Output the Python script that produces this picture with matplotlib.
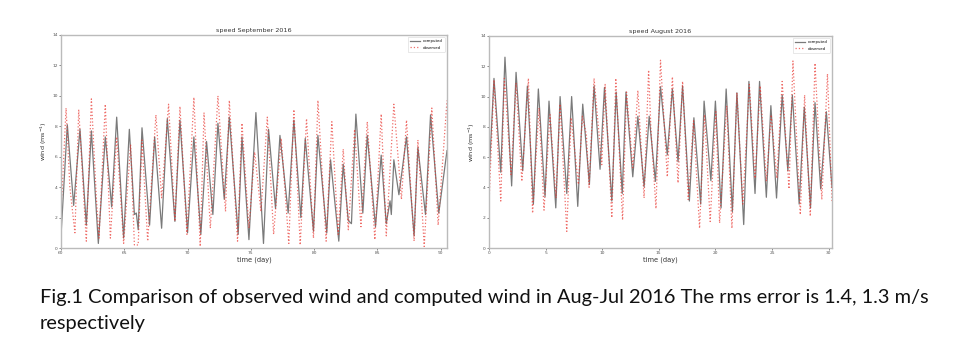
import matplotlib
matplotlib.use("Agg")
import matplotlib.pyplot as plt
import numpy as np

# ---------------- data (values at turning points) ----------------
sep_comp_t = [60.0, 60.5, 61.0, 61.5, 62.0, 62.4, 62.95, 63.5, 63.9, 64.0, 64.4, 64.95, 65.4, 65.8, 65.95, 66.1,
              66.4, 67.0, 67.4, 67.95, 68.4, 69.0, 69.4, 70.0, 70.5, 71.05, 71.5, 72.0, 72.4, 72.9, 73.3, 74.0,
              74.3, 74.85, 75.4, 76.0, 76.4, 76.95, 77.3, 77.95, 78.4, 78.95, 79.3, 79.95, 80.3, 81.0, 81.3,
              81.95, 82.3, 82.7, 82.95, 83.3, 83.85, 84.2, 84.85, 85.3, 85.7, 86.0, 86.1, 86.3, 86.7, 87.3,
              87.9, 88.2, 88.8, 89.2, 89.85, 90.5]
sep_comp_v = [0.8, 8.1, 2.8, 7.8, 1.5, 7.7, 0.3, 7.3, 3.7, 2.7, 8.6, 0.65, 7.8, 2.2, 2.3, 1.2,
              7.9, 1.5, 7.3, 1.3, 8.5, 1.75, 8.4, 1.0, 7.3, 0.9, 7.0, 2.2, 8.2, 3.2, 8.6, 0.9,
              7.3, 0.55, 8.9, 0.3, 7.8, 2.6, 7.4, 2.3, 8.4, 2.0, 7.2, 1.1, 7.4, 1.0, 5.8,
              0.45, 5.5, 1.8, 1.6, 8.8, 2.3, 7.4, 1.4, 6.1, 1.6, 3.1, 2.2, 5.8, 3.5, 7.3,
              0.8, 6.6, 2.2, 8.75, 2.3, 6.4]

sep_obs_t = [60.0, 60.1, 60.4, 60.7, 61.1, 61.4, 62.0, 62.4, 62.8, 63.0, 63.5, 63.9, 64.4, 64.95, 65.5, 65.8,
             66.1, 66.4, 66.85, 67.5, 67.95, 68.5, 69.0, 69.4, 69.95, 70.5, 71.0, 71.3, 71.8, 72.4, 73.0,
             73.3, 73.95, 74.3, 74.85, 75.3, 75.8, 76.3, 76.8, 77.4, 78.0, 78.4, 78.9, 79.4, 79.95, 80.3,
             80.95, 81.4, 81.9, 82.3, 82.7, 83.2, 83.7, 84.2, 84.8, 85.3, 85.7, 86.3, 86.9, 87.3, 87.9,
             88.2, 88.7, 89.3, 89.8, 90.5]
sep_obs_v = [2.8, 3.9, 9.2, 4.0, 1.0, 9.1, 0.45, 9.8, 3.2, 0.65, 9.45, 0.65, 7.3, 0.3, 6.8, 0.2,
             0.2, 7.1, 0.45, 8.75, 3.3, 9.45, 1.75, 9.3, 0.9, 9.9, 0.1, 8.9, 1.3, 10.0, 2.4,
             9.7, 0.45, 8.2, 1.3, 6.3, 2.4, 8.6, 0.9, 7.2, 0.3, 9.1, 0.2, 8.5, 0.65, 9.7,
             0.45, 8.3, 0.9, 6.5, 1.2, 7.8, 1.4, 8.3, 0.55, 8.8, 0.8, 9.45, 3.2, 8.4, 0.45,
             7.1, 0.1, 9.2, 1.5, 9.7]

aug_comp_t = [0.0, 0.44, 1.04, 1.41, 2.0, 2.39, 2.98, 3.39, 3.92, 4.36, 4.95, 5.3, 5.9, 6.28, 6.87, 7.3,
              7.84, 8.28, 8.87, 9.28, 9.81, 10.2, 10.85, 11.23, 11.77, 12.1, 12.7, 13.15, 13.7, 14.15,
              14.7, 15.15, 15.75, 16.2, 16.7, 17.1, 17.7, 18.1, 18.7, 19.0, 19.6, 20.0, 20.5, 20.95, 21.5,
              21.9, 22.5, 22.96, 23.5, 23.9, 24.5, 24.9, 25.4, 25.9, 26.4, 26.8, 27.4, 27.85, 28.4, 28.8,
              29.3, 29.8, 30.3]
aug_comp_v = [4.7, 11.2, 5.0, 12.6, 4.1, 11.6, 5.1, 10.7, 2.9, 10.5, 3.4, 9.7, 2.65, 10.0, 3.6, 10.0,
              2.75, 9.5, 4.2, 10.7, 5.2, 10.6, 3.1, 10.3, 3.6, 10.3, 4.7, 8.7, 4.05, 8.7,
              4.4, 10.65, 6.15, 10.5, 5.7, 10.7, 3.1, 8.6, 2.9, 9.7, 4.45, 9.7, 2.65, 10.5, 2.4,
              10.25, 1.55, 11.0, 3.6, 11.0, 3.35, 9.4, 3.3, 10.1, 5.1, 10.1, 2.9, 9.3, 2.65, 9.6,
              3.9, 9.0, 4.0]

aug_obs_t = [0.0, 0.44, 1.04, 1.36, 1.95, 2.39, 2.9, 3.48, 3.85, 4.42, 4.86, 5.39, 5.92, 6.28, 6.87, 7.25,
             7.9, 8.25, 8.6, 8.84, 9.28, 9.96, 10.26, 10.85, 11.2, 11.8, 12.15, 12.7, 13.15, 13.7,
             14.1, 14.3, 14.75, 15.15, 15.75, 16.2, 16.7, 17.1, 17.6, 18.07, 18.6, 19.04, 19.54, 20.04,
             20.37, 21.0, 21.46, 21.9, 22.42, 23.0, 23.5, 23.96, 24.5, 24.93, 25.43, 25.9, 26.5, 26.85,
             27.5, 27.88, 28.38, 28.8, 29.4, 29.9, 30.3]
aug_obs_v = [2.9, 11.1, 3.1, 11.2, 4.85, 10.9, 4.4, 11.2, 2.3, 9.25, 2.5, 8.8, 3.3, 9.5, 1.1, 8.6,
             4.2, 8.7, 7.5, 4.0, 11.2, 5.5, 10.8, 2.0, 11.2, 1.85, 10.3, 5.3, 10.4, 3.3,
             11.75, 7.9, 2.6, 12.4, 4.7, 11.3, 4.3, 11.0, 3.2, 8.4, 1.3, 8.8, 1.75, 9.0,
             1.65, 9.4, 1.3, 10.25, 2.9, 10.8, 4.6, 10.7, 4.4, 8.8, 4.6, 11.0, 3.9, 12.35,
             2.2, 10.1, 2.1, 12.2, 3.2, 11.5, 3.1]

yticks = [0, 2, 4, 6, 8, 10, 12, 14]
sep_xticks = [60, 65, 70, 75, 80, 85, 90]
aug_xticks = [0, 5, 10, 15, 20, 25, 30]
titles = ["speed September 2016", "speed August 2016"]
caption1 = "Fig.1 Comparison of observed wind and computed wind in Aug-Jul 2016 The rms error is 1.4, 1.3 m/s"
caption2 = "respectively"

# ---------------- figure ----------------
W, H = 957, 353
fig = plt.figure(figsize=(W / 100, H / 100), dpi=100)


def px_axes(l, r, t, b):
    return fig.add_axes([l / W, 1 - b / H, (r - l) / W, (b - t) / H])


ax1 = px_axes(61, 447, 35, 248)
ax2 = px_axes(489, 832, 36, 248)

specs = [
    (ax1, sep_comp_t, sep_comp_v, sep_obs_t, sep_obs_v, sep_xticks, (60, 90.5), titles[0]),
    (ax2, aug_comp_t, aug_comp_v, aug_obs_t, aug_obs_v, aug_xticks, (0, 30.3), titles[1]),
]

for ax, ct, cv, ot, ov, xt, xl, ttl in specs:
    ax.plot(ct, cv, color="#222222", lw=0.9, alpha=0.6, label="computed")
    ax.plot(ot, ov, color="#e8302a", lw=0.9, ls=":", alpha=0.7, label="observed")
    ax.set_xlim(*xl)
    ax.set_ylim(0, 14)
    ax.set_xticks(xt)
    ax.set_yticks(yticks)
    ax.tick_params(labelsize=3.2, length=1.5, width=0.5, colors="#555555", pad=1)
    for s in ax.spines.values():
        s.set_color("#bbbbbb")
        s.set_linewidth(1.0)
    ax.set_title(ttl, fontsize=4.6, pad=2, color="#333333")
    ax.set_xlabel("time (day)", fontsize=4.8, labelpad=1, color="#333333")
    ax.set_ylabel("wind (ms$^{-1}$)", fontsize=4.6, labelpad=2, color="#333333")
    leg = ax.legend(loc="upper right", fontsize=2.8, frameon=True, handlelength=2.5,
                    borderpad=0.6, labelspacing=0.6)
    leg.get_frame().set_linewidth(0.4)
    leg.get_frame().set_edgecolor("#cccccc")

fam = ["Lato", "DejaVu Sans"]
t1 = fig.text(40 / W, 1 - 297 / H, caption1, fontsize=14, family=fam, va="center", ha="left", color="#111111")
t2 = fig.text(40 / W, 1 - 323 / H, caption2, fontsize=14, family=fam, va="center", ha="left", color="#111111")

# fit caption width to the reference
fig.canvas.draw()
r = fig.canvas.get_renderer()
w = t1.get_window_extent(r).width
fs = 14 * 890 / w
t1.set_fontsize(fs)
t2.set_fontsize(fs)

fig.savefig("out.png", dpi=100)
